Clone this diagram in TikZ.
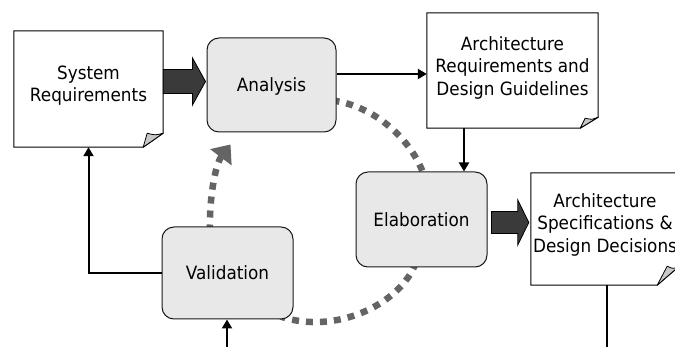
\documentclass[tikz,border=0pt]{standalone}
\usepackage{fontspec}
\setmainfont{DejaVu Sans}[FakeStretch=0.92]
\usetikzlibrary{arrows.meta,calc}
\definecolor{boxfill}{RGB}{232,232,232}
\definecolor{dotgray}{RGB}{100,100,100}
\definecolor{bigfill}{RGB}{58,58,58}
\definecolor{flapfill}{RGB}{200,200,200}
\pgfdeclarelayer{bg}
\pgfsetlayers{bg,main}
\newcommand\mydocshape[5]{%
  \draw[docline] (#1.north west) -- (#1.north east) -- ($(#1.south east)+(0,-#3)$) -- ($(#1.south east)+(-#2,0)$) -- (#1.south west) -- cycle;
  \draw[flap] ($(#1.south east)+(-#2,0)$) -- ($(#1.south east)+(#4,#5)$) .. controls ($(#1.south east)+(#4/2,#5*0.85)$) .. ($(#1.south east)+(0,-#3)$) -- cycle;
}
\begin{document}
\begin{tikzpicture}[x=1pt,y=-1pt,
  procbox/.style={draw=black!90, line width=1pt, fill=boxfill, rounded corners=12pt, inner sep=0pt, font={\fontsize{18.3pt}{22.5pt}\selectfont}, text height=14pt, text depth=0pt},
  docnode/.style={inner sep=0pt, draw=none},
  doctext/.style={inner sep=0pt, align=center, font={\fontsize{18.3pt}{22.5pt}\selectfont}},
  docline/.style={draw=black, line width=1pt, fill=white, line join=miter},
  flap/.style={draw=black, line width=0.8pt, fill=flapfill, line join=round},
  conn/.style={draw=black, line width=2pt, -{Triangle[length=9pt,width=10pt]}},
  plainline/.style={draw=black, line width=2pt},
  bigarr/.style={draw=black, line width=0.8pt, fill=bigfill, line join=miter},
  cyc/.style={draw=dotgray, line width=6.5pt, dash pattern=on 7pt off 7pt},
]
\useasboundingbox (0,0) rectangle (675,347);
\clip (0,0) rectangle (675,347);

% process boxes
\node[procbox, minimum width=129pt, minimum height=94pt] (ana) at (271.5,85) {Analysis};
\node[procbox, minimum width=131pt, minimum height=95pt] (elab) at (421.5,219.5) {Elaboration};
\node[procbox, minimum width=131pt, minimum height=92pt] (val) at (227.5,273) {Validation};

% documents
\node[docnode, minimum width=149pt, minimum height=116pt] (sysreq) at (88.5,89) {};
\node[docnode, minimum width=171pt, minimum height=115pt] (archreq) at (512.5,70.5) {};
\node[docnode, minimum width=148pt, minimum height=112pt] (archspec) at (605,229) {};
\mydocshape{sysreq}{20}{14}{-16}{-14}
\mydocshape{archreq}{18}{11}{-13}{-10}
\mydocshape{archspec}{22}{19}{-12}{-19}
\node[doctext] (sysreqtxt) at (88.5,85.5) {System\\Requirements};
\node[doctext] (archreqtxt) at (512.5,67.7) {Architecture\\Requirements and\\Design Guidelines};
\node[doctext] (archspectxt) at (605,224.7) {Architecture\\Specifications \&\\Design Decisions};

% big arrows
\coordinate (b1s) at ($(sysreq.east)+(0,-7.5)$);
\coordinate (b1e) at ($(ana.west |- b1s)+(-1,0)$);
\draw[bigarr] ($(b1s)+(0,-12)$) -- ($(b1e)+(-13,-12)$) -- ($(b1e)+(-13,-23.5)$) -- (b1e) -- ($(b1e)+(-13,23.5)$) -- ($(b1e)+(-13,12)$) -- ($(b1s)+(0,12)$) -- cycle;
\coordinate (b2s) at ($(elab.east)+(4,3)$);
\coordinate (b2e) at ($(archspec.west |- b2s)+(-2,0)$);
\draw[bigarr] ($(b2s)+(0,-11)$) -- ($(b2e)+(-11,-11)$) -- ($(b2e)+(-11,-22.5)$) -- (b2e) -- ($(b2e)+(-11,22.5)$) -- ($(b2e)+(-11,11)$) -- ($(b2s)+(0,11)$) -- cycle;

% connectors
\coordinate (c1) at ($(ana.east)+(0,-11)$);
\draw[conn] (c1) -- (c1 -| archreq.west);
\coordinate (c2) at ($(archreq.south)+(-48.5,0)$);
\draw[conn] (c2) -- (c2 |- elab.north);
\draw[conn] (val.west) -| (sysreq.south);
\coordinate (vin) at ($(val.south)+(-0.5,35)$);
\draw[conn] (vin) -- (vin |- val.south);
\coordinate (sout) at ($(archspec.south)+(2,70)$);
\draw[plainline, line width=2.5pt] (sout |- archspec.south) -- (sout);

% cycle arcs (behind)
\begin{pgfonlayer}{bg}
\fill[white] (0,0) rectangle (675,347);
\draw[cyc] ($(ana.south east)+(-4,-32)$) .. controls (375,106) and (412,140) .. ($(elab.north)+(2.5,4)$);
\draw[cyc] ($(elab.south)+(-5.5,-5)$) .. controls (400,305) and (335,335) .. ($(val.south east)+(-13,-3)$);
\draw[cyc, -{Triangle[length=16pt,width=26pt]}] ($(val.north)+(-17.5,5)$) .. controls (209,200) and (215,165) .. ($(ana.south west)+(24,12)$);
\end{pgfonlayer}
\end{tikzpicture}
\end{document}
